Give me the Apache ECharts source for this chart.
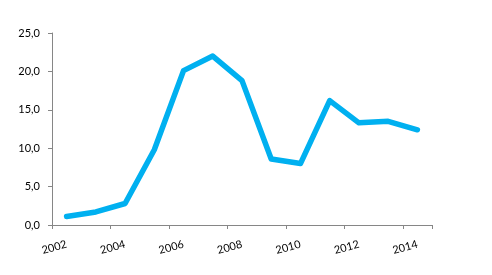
<!DOCTYPE html>
<html><head><meta charset="utf-8">
<script src="https://cdn.jsdelivr.net/npm/echarts@6/dist/echarts.min.js"></script>
<style>html,body{margin:0;padding:0;background:#fff}#c{width:492px;height:275px}</style>
</head><body><div id="c"></div>
<script>
const years = ['2002','2003','2004','2005','2006','2007','2008','2009','2010','2011','2012','2013','2014'];
const values = [1.1, 1.7, 2.8, 9.8, 20.1, 22.0, 18.8, 8.6, 8.0, 16.2, 13.3, 13.5, 12.4];
const yTicks = {min: 0, max: 25, interval: 5};
const chart = echarts.init(document.getElementById('c'), null, {renderer: 'canvas'});
const font = 'Lato, "Open Sans", sans-serif';
chart.setOption({
  animation: false,
  grid: {left: 52, right: 60, top: 33, bottom: 50},
  xAxis: {
    type: 'category', data: years, boundaryGap: true,
    axisLine: {lineStyle: {color: '#868686', width: 1}},
    axisTick: {show: true, length: 4, lineStyle: {color: '#868686'}},
    axisLabel: {interval: 1, rotate: 15, margin: 19, color: '#000', fontSize: 11, fontFamily: font}
  },
  yAxis: {
    type: 'value', min: yTicks.min, max: yTicks.max, interval: yTicks.interval,
    axisLine: {show: true, lineStyle: {color: '#868686', width: 1}},
    axisTick: {show: true, length: 4, lineStyle: {color: '#868686'}},
    splitLine: {show: false},
    axisLabel: {margin: 12, color: '#000', fontSize: 11, fontFamily: font,
      formatter: v => v.toFixed(1).replace('.', ',')}
  },
  series: [{
    type: 'line', data: values, symbol: 'none',
    lineStyle: {color: '#00B0F0', width: 5.5, cap: 'round', join: 'round'}
  }]
});
</script></body></html>
